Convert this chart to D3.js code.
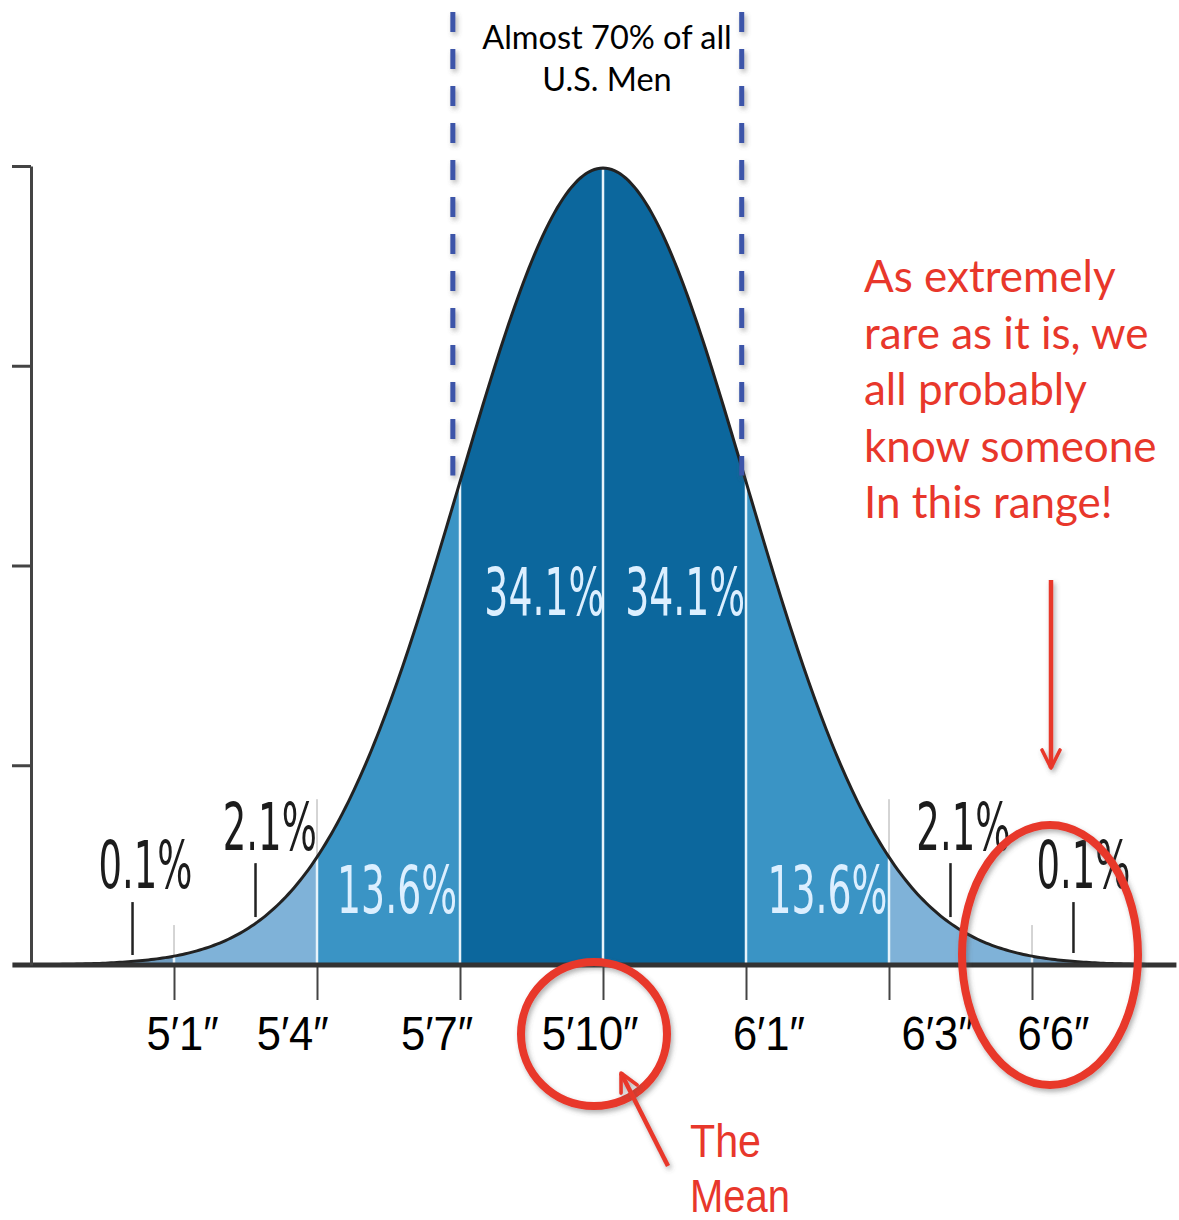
<!DOCTYPE html>
<html>
<head>
<meta charset="utf-8">
<script src="https://cdn.jsdelivr.net/npm/d3@7"></script>
<style>
body { margin: 0; background: #fff; }
svg { display: block; }
</style>
</head>
<body>
<div id="chart"></div>
<script>
let svgWidth = 1179;
let svgHeight = 1220;

// distribution in standard deviations, shares per band
let bandFrom = [-4, -3, -2, -1, 0, 1, 2, 3];
let bandTo   = [-3, -2, -1, 0, 1, 2, 3, 4];
let bandFill = ['#6f9cc0', '#7fb2d8', '#3a94c5', '#0c679d', '#0c679d', '#3a94c5', '#7fb2d8', '#6f9cc0'];

let pctText = ['0.1%', '2.1%', '13.6%', '34.1%', '34.1%', '13.6%', '2.1%', '0.1%'];
let pctAt   = [-3.2, -2.33, -1.44, -0.41, 0.575, 1.57, 2.52, 3.36];   // sigma
let pctLift = [0.0385, 0.0576, 0.026, 0.175, 0.175, 0.026, 0.0576, 0.0385]; // density
let pctInside = [false, false, true, true, true, true, false, false];

let markAt  = [-3.29, -2.43, 2.43, 3.29];
let markTop = [0.0315, 0.051, 0.051, 0.0315];
let markBot = [0.005, 0.024, 0.024, 0.006];

let heightText = ['5′1″', '5′4″', '5′7″', '5′10″', '6′1″', '6′3″', '6′6″'];
let heightAt   = [-2.94, -2.17, -1.16, -0.09, 1.16, 2.34, 3.15];

let sigmaTicks = [-3, -2, -1, 0, 1, 2, 3];
let densityTicks = [0.1, 0.2, 0.3, 0.4];
let dashedAt = [-1.05, 0.97];

let noteLines = ['As extremely', 'rare as it is, we', 'all probably', 'know someone', 'In this range!'];
let topNote = ['Almost 70% of all', 'U.S. Men'];
let meanNote = ['The', 'Mean'];

const red = '#e8372b';

function pdf(z) {
    return Math.exp(-z * z / 2) / Math.sqrt(2 * Math.PI);
}

let svg = d3.select('#chart')
    .append('svg')
        .attr('width', svgWidth)
        .attr('height', svgHeight);

let defs = svg.append('defs');
// user space region so straight vertical lines still get their shadow
let shadow = defs.append('filter').attr('id', 'shadow')
    .attr('filterUnits', 'userSpaceOnUse')
    .attr('x', 0).attr('y', 0).attr('width', svgWidth).attr('height', svgHeight);
shadow.append('feDropShadow')
    .attr('dx', 2).attr('dy', 3).attr('stdDeviation', 2.5)
    .attr('flood-color', '#555').attr('flood-opacity', 0.45);

let x = d3.scaleLinear().domain([-4, 4]).range([31, 1175]);
let y = d3.scaleLinear().domain([0, 0.4]).range([965, 166]);

// bands under the curve
let area = d3.area()
    .x(d => x(d))
    .y0(y(0))
    .y1(d => y(pdf(d)));

bandFrom.forEach(function(a, i) {
    let b = bandTo[i];
    let pts = d3.range(a, b, 0.02).concat([b]);
    svg.append('path')
        .datum(pts)
        .attr('d', area)
        .attr('fill', bandFill[i]);
});

// thin grey guides of the original figure
svg.selectAll('.guide2')
    .data([-2, 2])
    .join('line')
        .attr('x1', d => x(d)).attr('x2', d => x(d))
        .attr('y1', y(0.083)).attr('y2', y(pdf(2)))
        .attr('stroke', '#aaa').attr('stroke-width', 1);
svg.selectAll('.guide3')
    .data([-3, 3])
    .join('line')
        .attr('x1', d => x(d)).attr('x2', d => x(d))
        .attr('y1', y(0.02)).attr('y2', y(0))
        .attr('stroke', '#aaa').attr('stroke-width', 1);

// white separators
svg.selectAll('.sep')
    .data(sigmaTicks)
    .join('line')
        .attr('x1', d => x(d)).attr('x2', d => x(d))
        .attr('y1', y(0)).attr('y2', d => y(pdf(d)))
        .attr('stroke', '#e6f3fb').attr('stroke-width', 2.5);

// curve outline
let line = d3.line().x(d => x(d)).y(d => y(pdf(d)));
svg.append('path')
    .datum(d3.range(-4, 4.001, 0.02))
    .attr('d', line)
    .attr('fill', 'none')
    .attr('stroke', '#222')
    .attr('stroke-width', 3);

// baseline + ticks below
let xAxis = d3.axisBottom(x).tickValues(sigmaTicks).tickSize(35).tickFormat('');
let gx = svg.append('g')
    .attr('transform', `translate(0,${y(0)})`)
    .call(xAxis);
gx.select('.domain').remove();
gx.selectAll('.tick line').attr('stroke', '#444').attr('stroke-width', 2);

svg.append('line')
    .attr('x1', x(-4.13)).attr('x2', x(4.01))
    .attr('y1', y(0)).attr('y2', y(0))
    .attr('stroke', '#333').attr('stroke-width', 5);

// density axis without labels
let yAxis = d3.axisLeft(y).tickValues(densityTicks).tickSize(19).tickSizeOuter(0).tickFormat('');
let gy = svg.append('g')
    .attr('transform', `translate(${x(-4)},0)`)
    .call(yAxis);
gy.select('.domain').attr('stroke', '#444').attr('stroke-width', 3);
gy.selectAll('.tick line').attr('stroke', '#444').attr('stroke-width', 3);

// little markers for the outside labels
svg.selectAll('.mark')
    .data(markAt)
    .join('line')
        .attr('x1', d => x(d)).attr('x2', d => x(d))
        .attr('y1', (d, i) => y(markTop[i]))
        .attr('y2', (d, i) => y(markBot[i]))
        .attr('stroke', '#222').attr('stroke-width', 2.5);

// percentage labels
svg.selectAll('.pct')
    .data(pctText)
    .join('text')
        .attr('x', (d, i) => x(pctAt[i]))
        .attr('y', (d, i) => y(pctLift[i]))
        .attr('text-anchor', 'middle')
        .attr('font-family', 'DejaVu Sans')
        .attr('font-size', 66)
        .attr('textLength', d => d.length > 4 ? 120 : 94)
        .attr('lengthAdjust', 'spacingAndGlyphs')
        .attr('fill', (d, i) => pctInside[i] ? '#dcefff' : '#1c1c1c')
        .text(d => d);

// height labels
svg.selectAll('.hgt')
    .data(heightText)
    .join('text')
        .attr('x', (d, i) => x(heightAt[i]))
        .attr('y', 1050)
        .attr('text-anchor', 'middle')
        .attr('font-family', 'Liberation Sans')
        .attr('font-size', 49)
        .attr('textLength', d => d.length > 4 ? 97 : 72)
        .attr('lengthAdjust', 'spacingAndGlyphs')
        .attr('fill', '#000')
        .text(d => d);

// dashed blue bracket
svg.selectAll('.dash')
    .data(dashedAt)
    .join('line')
        .attr('x1', d => x(d)).attr('x2', d => x(d))
        .attr('y1', 12).attr('y2', y(0.245))
        .attr('stroke', '#3c55a9').attr('stroke-width', 5)
        .attr('stroke-dasharray', '20 17')
        .attr('filter', 'url(#shadow)');

svg.append('text')
    .attr('x', 607).attr('y', 49)
    .attr('text-anchor', 'middle')
    .attr('font-family', 'Lato')
    .attr('font-size', 32.5)
    .attr('fill', '#000')
    .selectAll('tspan')
    .data(topNote)
    .join('tspan')
        .attr('x', 607)
        .attr('dy', (d, i) => i ? 42 : 0)
        .text(d => d);

// red annotations
svg.append('text')
    .attr('font-family', 'Lato')
    .attr('font-size', 44)
    .attr('fill', red)
    .selectAll('tspan')
    .data(noteLines)
    .join('tspan')
        .attr('x', 864)
        .attr('y', (d, i) => 292 + i * 56.5)
        .text(d => d);

let marker = defs.append('marker')
    .attr('id', 'head')
    .attr('viewBox', '0 0 10 10')
    .attr('refX', 9).attr('refY', 5)
    .attr('markerWidth', 5).attr('markerHeight', 5)
    .attr('orient', 'auto')
    .attr('markerUnits', 'strokeWidth');
marker.append('path')
    .attr('d', 'M1,1 L9,5 L1,9')
    .attr('fill', 'none')
    .attr('stroke', red)
    .attr('stroke-width', 1.6)
    .attr('stroke-linecap', 'round')
    .attr('stroke-linejoin', 'round');

svg.append('line')
    .attr('x1', 1051).attr('y1', 580)
    .attr('x2', 1051).attr('y2', 768)
    .attr('stroke', red).attr('stroke-width', 4.5)
    .attr('marker-end', 'url(#head)')
    .attr('filter', 'url(#shadow)');

svg.append('ellipse')
    .attr('cx', 1050).attr('cy', 955)
    .attr('rx', 88).attr('ry', 130)
    .attr('fill', 'none')
    .attr('stroke', red).attr('stroke-width', 8)
    .attr('filter', 'url(#shadow)');

svg.append('ellipse')
    .attr('cx', 594).attr('cy', 1034)
    .attr('rx', 73).attr('ry', 72)
    .attr('fill', 'none')
    .attr('stroke', red).attr('stroke-width', 8)
    .attr('filter', 'url(#shadow)');

svg.append('line')
    .attr('x1', 668).attr('y1', 1166)
    .attr('x2', 621).attr('y2', 1073)
    .attr('stroke', red).attr('stroke-width', 4.5)
    .attr('marker-end', 'url(#head)')
    .attr('filter', 'url(#shadow)');

svg.selectAll('.mean')
    .data(meanNote)
    .join('text')
        .attr('x', 690)
        .attr('y', (d, i) => 1157 + i * 55)
        .attr('font-family', 'Liberation Sans')
        .attr('font-size', 47)
        .attr('textLength', d => d.length > 3 ? 100 : 71)
        .attr('lengthAdjust', 'spacingAndGlyphs')
        .attr('fill', red)
        .text(d => d);
</script>
</body>
</html>
